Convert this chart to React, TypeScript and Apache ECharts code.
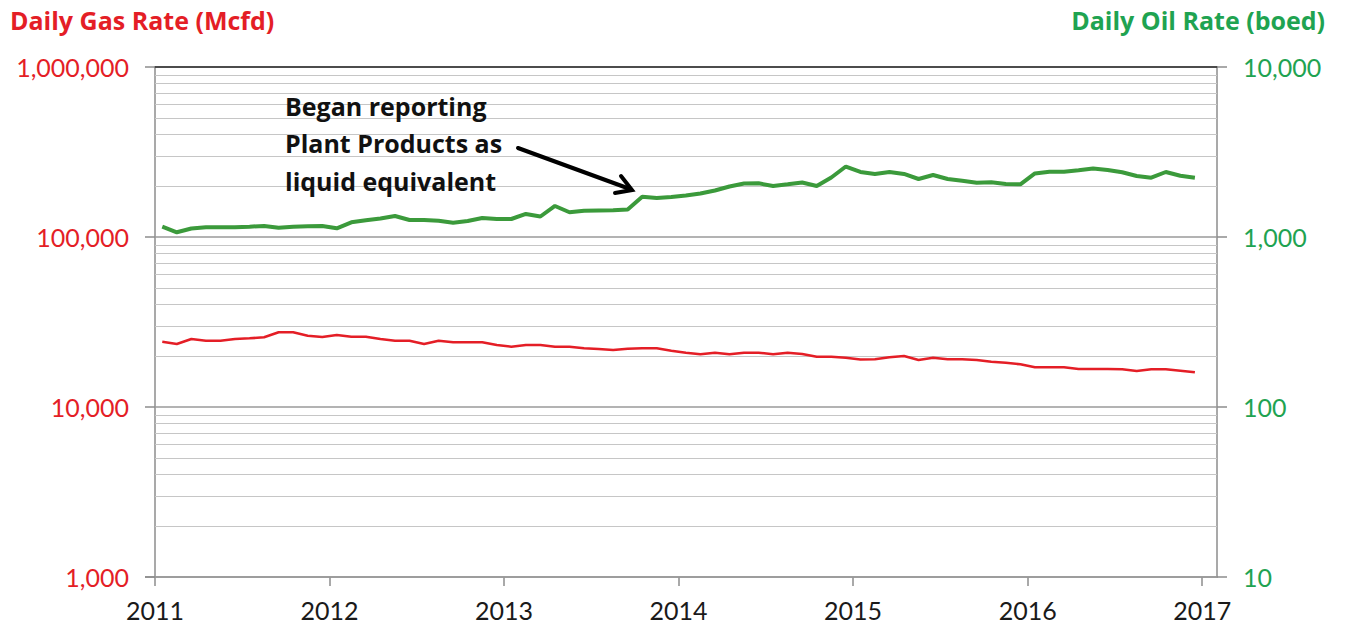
import React, { useEffect, useRef } from "react";
import * as echarts from "echarts";

// Monthly reporting periods, Jan 2011 – Dec 2016
const years = [2011, 2012, 2013, 2014, 2015, 2016];
const months: string[] = [];
years.forEach((y) => {
  for (let m = 1; m <= 12; m++) months.push(`${y}-${String(m).padStart(2, "0")}`);
});

// Daily Oil Rate (boed), right axis
const oilRate = [
  1150, 1066, 1122, 1140, 1140, 1142, 1150, 1161, 1134, 1150, 1156, 1161,
  1125, 1220, 1254, 1285, 1329, 1259, 1259, 1247, 1214, 1242, 1294, 1276,
  1276, 1366, 1320, 1522, 1398, 1428, 1432, 1436, 1451, 1726, 1696, 1719,
  1754, 1803, 1877, 1982, 2064, 2070, 1995, 2042, 2092, 1995, 2239, 2598,
  2412, 2348, 2412, 2348, 2194, 2316, 2194, 2144, 2086, 2098, 2050, 2042,
  2364, 2422, 2422, 2468, 2529, 2478, 2402, 2285, 2233, 2412, 2294, 2233,
];

// Daily Gas Rate (Mcfd), left axis
const gasRate = [
  24220, 23480, 25120, 24550, 24550, 25120, 25360, 25700, 27500, 27500, 26270, 25810,
  26520, 25910, 25910, 25120, 24550, 24550, 23480, 24550, 24030, 24030, 24030, 23160,
  22630, 23160, 23160, 22630, 22630, 22140, 21930, 21640, 22020, 22140, 22140, 21440,
  20870, 20420, 20870, 20420, 20870, 20870, 20420, 20870, 20500, 19760, 19760, 19500,
  19030, 19080, 19600, 19950, 18900, 19500, 19080, 19080, 18900, 18470, 18220, 17830,
  17120, 17120, 17120, 16730, 16730, 16730, 16660, 16280, 16660, 16660, 16350, 16000,
];

const xTickLabels = [2011, 2012, 2013, 2014, 2015, 2016, 2017];
const gasTicks = [1000, 10000, 100000, 1000000];
const oilTicks = [10, 100, 1000, 10000];
const annotationLines = ["Began reporting", "Plant Products as", "liquid equivalent"];

const RED = "#e41e26";
const GREEN_TEXT = "#1fa351";
const GREEN_LINE = "#3b9a3b";
const FONT = "Lato, 'Open Sans', sans-serif";
const BOLD_FONT = "'Open Sans', Lato, sans-serif";

const toX = (mo: string) => {
  const [y, m] = mo.split("-").map(Number);
  return y + (m - 0.5) / 12;
};
const fmt = (v: number) => Math.round(v).toLocaleString("en-US");

export default function App() {
  const ref = useRef<HTMLDivElement>(null);
  useEffect(() => {
    if (!ref.current) return;
    const chart = echarts.init(ref.current, undefined, { renderer: "svg" });

    // log gridlines (major decades darker, minor 2..9 lighter)
    const gridLines: any[] = [];
    for (let i = 0; i < gasTicks.length; i++) {
      const d = gasTicks[i];
      gridLines.push({
        yAxis: d,
        lineStyle: { color: i === gasTicks.length - 1 ? "#404040" : "#9a9a9a", width: 1.5, type: "solid" },
      });
      if (i < gasTicks.length - 1) {
        for (let k = 2; k <= 9; k++) {
          gridLines.push({ yAxis: d * k, lineStyle: { color: "#c6c6c6", width: 1.2, type: "solid" } });
        }
      }
    }

    const option: any = {
      animation: false,
      backgroundColor: "#ffffff",
      textStyle: { fontFamily: FONT },
      grid: { left: 155, right: 129, top: 67, bottom: 56, containLabel: false },
      xAxis: [
        {
          type: "value",
          min: 2011,
          max: 2017.085,
          axisLine: { show: true, lineStyle: { color: "#8c8c8c", width: 1.5 } },
          axisTick: {
            show: true,
            customValues: xTickLabels,
            length: 9,
            inside: false,
            lineStyle: { color: "#8c8c8c", width: 1.5 },
          },
          axisLabel: {
            customValues: xTickLabels,
            formatter: (v: number) => String(Math.round(v)),
            color: "#1a1a1a",
            fontSize: 25,
            fontFamily: FONT,
            margin: 20,
          },
          splitLine: { show: false },
        },
        {
          type: "value",
          position: "top",
          min: 2011,
          max: 2017.085,
          axisLine: { show: true, onZero: false, lineStyle: { color: "#404040", width: 1.5 } },
          axisTick: { show: false },
          axisLabel: { show: false },
          splitLine: { show: false },
        },
      ],
      yAxis: [
        {
          type: "log",
          logBase: 10,
          min: 1000,
          max: 1000000,
          position: "left",
          axisLine: { show: true, lineStyle: { color: "#8c8c8c", width: 1.5 } },
          axisTick: { show: true, length: 10, lineStyle: { color: "#8c8c8c", width: 1.5 } },
          axisLabel: {
            customValues: gasTicks,
            formatter: (v: number) => fmt(v),
            color: RED,
            fontSize: 25,
            fontFamily: FONT,
            margin: 26,
          },
          splitLine: { show: false },
        },
        {
          type: "log",
          logBase: 10,
          min: 10,
          max: 10000,
          position: "right",
          axisLine: { show: true, lineStyle: { color: "#8c8c8c", width: 1.5 } },
          axisTick: { show: true, length: 10, lineStyle: { color: "#8c8c8c", width: 1.5 } },
          axisLabel: {
            customValues: oilTicks,
            formatter: (v: number) => fmt(v),
            color: GREEN_TEXT,
            fontSize: 25,
            fontFamily: FONT,
            margin: 26,
          },
          splitLine: { show: false },
        },
      ],
      series: [
        {
          name: "Daily Gas Rate (Mcfd)",
          type: "line",
          xAxisIndex: 0,
          yAxisIndex: 0,
          data: months.map((mo, i) => [toX(mo), gasRate[i]]),
          showSymbol: false,
          symbol: "none",
          smooth: false,
          z: 4,
          lineStyle: { color: RED, width: 2.6 },
          emphasis: { disabled: true },
          markLine: {
            silent: true,
            z: 1,
            symbol: ["none", "none"],
            label: { show: false },
            emphasis: { disabled: true },
            data: gridLines,
          },
        },
        {
          name: "Daily Oil Rate (boed)",
          type: "line",
          xAxisIndex: 0,
          yAxisIndex: 1,
          data: months.map((mo, i) => [toX(mo), oilRate[i]]),
          showSymbol: false,
          symbol: "none",
          z: 5,
          lineStyle: { color: GREEN_LINE, width: 4 },
          emphasis: { disabled: true },
        },
      ],
      graphic: [
        {
          type: "text",
          left: 10,
          top: 7,
          style: { text: "Daily Gas Rate (Mcfd)", fill: RED, font: `bold 25px ${BOLD_FONT}` },
        },
        {
          type: "text",
          right: 1346 - 1325,
          top: 7,
          style: { text: "Daily Oil Rate (boed)", fill: GREEN_TEXT, font: `bold 25px ${BOLD_FONT}` },
        },
        ...annotationLines.map((t, i) => ({
          type: "text",
          left: 285,
          top: 93 + i * 37.5,
          z: 10,
          style: { text: t, fill: "#111111", font: `bold 25px ${BOLD_FONT}` },
        })),
        {
          type: "line",
          z: 10,
          shape: { x1: 518, y1: 148, x2: 630, y2: 189 },
          style: { stroke: "#000000", lineWidth: 4, lineCap: "round" },
        },
        {
          type: "polyline",
          z: 10,
          shape: { points: [[621, 176], [632, 190], [615, 193]] },
          style: { stroke: "#000000", lineWidth: 4, fill: null, lineCap: "round", lineJoin: "miter" },
        },
      ],
    };

    chart.setOption(option);
    return () => chart.dispose();
  }, []);

  return (
    <div
      ref={ref}
      style={{ position: "fixed", left: 0, top: 0, width: 1346, height: 633, background: "#fff" }}
    />
  );
}
